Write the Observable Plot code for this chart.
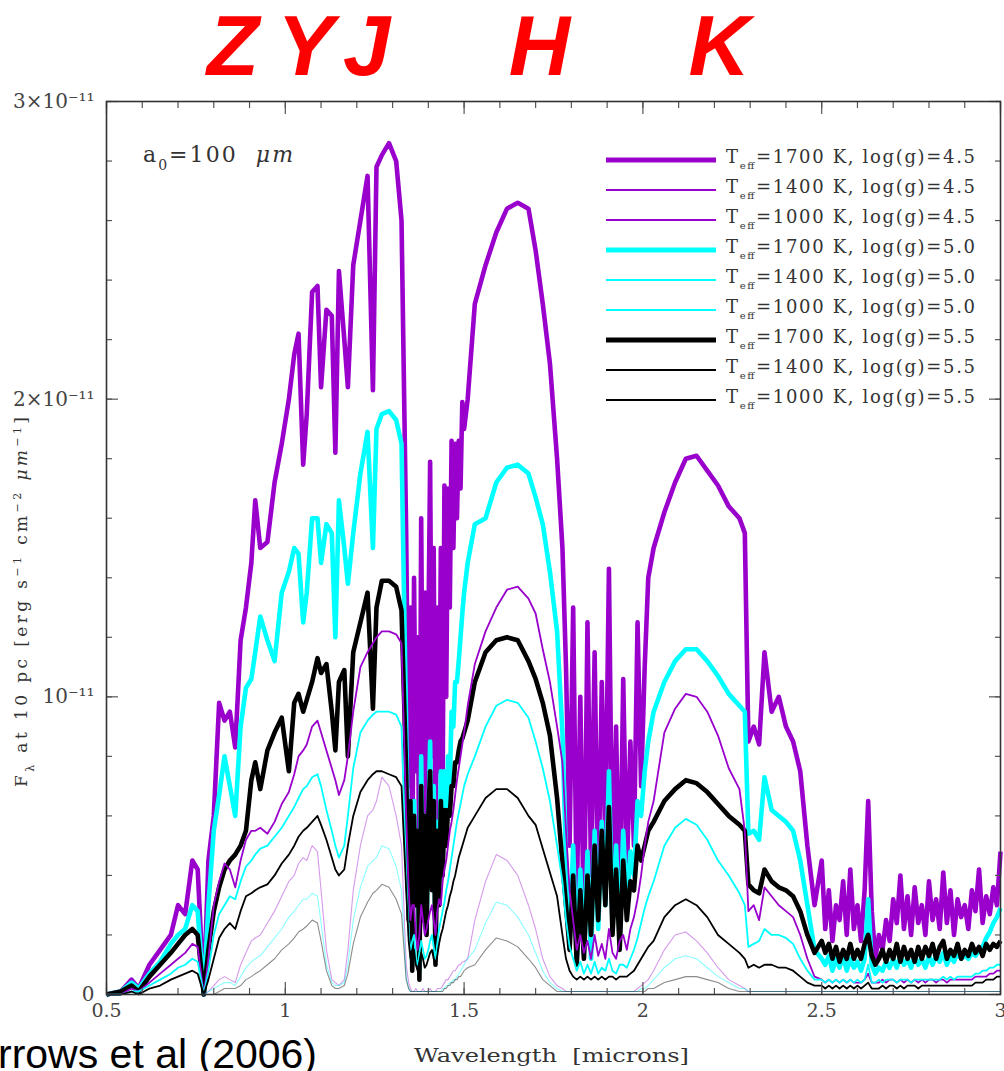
<!DOCTYPE html>
<html>
<head>
<meta charset="utf-8">
<script src="https://cdn.jsdelivr.net/npm/d3@7"></script>
<script src="https://cdn.jsdelivr.net/npm/@observablehq/plot@0.6"></script>
<style>
  html, body { margin: 0; padding: 0; background: #fff; }
  #chart { width: 1004px; height: 1071px; overflow: hidden; position: relative; }
  #chart svg { display: block; }
</style>
</head>
<body>
<div id="chart"></div>
<script>
// ---------------- data (flux in units of 1e-11 erg s^-1 cm^-2 um^-1) ----------------
const wavelength = [
  // 0.5 - 0.8
  0.50, 0.54, 0.57, 0.59, 0.62, 0.65, 0.68, 0.70, 0.72, 0.74, 0.755, 0.772, 0.785, 0.80,
  // Z Y J
  0.815, 0.83, 0.845, 0.86, 0.875, 0.89, 0.905, 0.916, 0.93, 0.95,
  0.97, 0.99, 1.01, 1.025, 1.037, 1.05, 1.06, 1.075, 1.09, 1.10,
  1.115, 1.13, 1.14, 1.15, 1.165, 1.175, 1.19, 1.21, 1.23, 1.245,
  1.255, 1.27, 1.29, 1.31, 1.325,
  // water band 1.4
  1.338, 1.345, 1.35, 1.355, 1.36, 1.365, 1.37, 1.375, 1.38, 1.385,
  1.39, 1.395, 1.40, 1.405, 1.41, 1.415, 1.42, 1.425, 1.43, 1.435,
  1.44, 1.445, 1.45, 1.455, 1.46, 1.465, 1.47, 1.475, 1.48, 1.485,
  1.49, 1.495, 1.50, 1.51,
  // H
  1.53, 1.56, 1.59, 1.62, 1.65, 1.68, 1.70, 1.72, 1.74, 1.76,
  // water band 1.9
  1.775, 1.785, 1.795, 1.805, 1.815, 1.825, 1.835, 1.845, 1.855, 1.865,
  1.875, 1.885, 1.895, 1.905, 1.915, 1.925, 1.935, 1.945, 1.955, 1.965,
  1.975, 1.985, 1.995, 2.005, 2.015,
  // K
  2.03, 2.06, 2.09, 2.12, 2.15, 2.18, 2.21, 2.24, 2.27, 2.285,
  2.295, 2.31, 2.325, 2.34, 2.36, 2.38, 2.40, 2.42, 2.44, 2.46,
  2.48, 2.50,
  // 2.5 - 3.0
  2.51, 2.52, 2.53, 2.54, 2.55, 2.56, 2.57, 2.58, 2.59, 2.60,
  2.61, 2.62, 2.63, 2.64, 2.65, 2.66, 2.67, 2.68, 2.69, 2.70,
  2.71, 2.72, 2.73, 2.74, 2.75, 2.76, 2.77, 2.78, 2.79, 2.80,
  2.81, 2.82, 2.83, 2.84, 2.85, 2.86, 2.87, 2.88, 2.89, 2.90,
  2.91, 2.92, 2.93, 2.94, 2.95, 2.96, 2.97, 2.98, 2.99, 3.00
];

const f1700_45 = [
  0, 0.01, 0.05, 0.02, 0.10, 0.15, 0.20, 0.30, 0.27, 0.45, 0.42, 0, 0.45, 0.60,
  0.98, 0.92, 0.95, 0.83, 1.19, 1.30, 1.45, 1.66, 1.50, 1.52,
  1.72, 1.85, 2.00, 2.15, 2.22, 1.78, 1.95, 2.36, 2.38, 2.04,
  2.30, 2.28, 1.82, 2.43, 2.20, 2.04, 2.45, 2.60, 2.75, 2.03,
  2.78, 2.82, 2.86, 2.80, 2.60,
  1.55, 0.70, 1.30, 0.35, 1.40, 0.75, 1.20, 0.30, 1.60, 0.70,
  1.35, 0.45, 1.20, 1.79, 0.80, 1.50, 0.35, 1.30, 0.75, 1.50,
  0.70, 1.71, 1.00, 1.70, 1.30, 1.86, 1.50, 1.85, 1.60, 1.86,
  1.70, 1.99, 1.90, 2.00,
  2.32, 2.45, 2.56, 2.64, 2.66, 2.64, 2.50, 2.32, 2.12, 1.80,
  1.50, 1.10, 0.50, 1.30, 0.30, 1.00, 0.20, 1.25, 0.40, 1.15,
  0.30, 1.05, 0.50, 1.43, 0.35, 0.90, 0.25, 1.06, 0.40, 0.85,
  0.50, 1.25, 0.70, 1.10, 1.40,
  1.50, 1.62, 1.72, 1.80, 1.81, 1.76, 1.71, 1.64, 1.60, 1.55,
  0.85, 0.90, 0.84, 1.15, 0.95, 1.00, 0.90, 0.85, 0.75, 0.50,
  0.30, 0.45,
  0.22, 0.35, 0.18, 0.30, 0.25, 0.38, 0.20, 0.42, 0.22, 0.30,
  0.18, 0.35, 0.65, 0.28, 0.12, 0.20, 0.15, 0.25, 0.18, 0.32,
  0.24, 0.40, 0.22, 0.33, 0.20, 0.36, 0.24, 0.30, 0.20, 0.38,
  0.25, 0.32, 0.22, 0.41, 0.24, 0.35, 0.20, 0.32, 0.26, 0.30,
  0.22, 0.35, 0.28, 0.42, 0.24, 0.33, 0.27, 0.36, 0.30, 0.48
];

const f1400_45 = [
  0, 0, 0.02, 0.01, 0.04, 0.07, 0.10, 0.12, 0.14, 0.17, 0.16, 0, 0.12, 0.30,
  0.38, 0.44, 0.42, 0.36, 0.45, 0.52, 0.55, 0.55, 0.56, 0.54,
  0.58, 0.64, 0.68, 0.74, 0.80, 0.82, 0.84, 0.90, 0.92, 0.88,
  0.82, 0.76, 0.72, 0.67, 0.72, 0.80, 0.95, 1.10, 1.15, 1.18,
  1.20, 1.22, 1.22, 1.21, 1.18,
  0.60, 0.35, 0.25, 0.30, 0.30, 0.20, 0.15, 0.20, 0.30, 0.25,
  0.20, 0.22, 0.25, 0.28, 0.30, 0.25, 0.20, 0.28, 0.32, 0.30,
  0.38, 0.42, 0.45, 0.50, 0.55, 0.58, 0.62, 0.67, 0.72, 0.76,
  0.80, 0.84, 0.88, 0.97,
  1.11, 1.22, 1.30, 1.36, 1.37, 1.33, 1.28, 1.16, 1.05, 0.90,
  0.78, 0.55, 0.35, 0.25, 0.15, 0.20, 0.14, 0.18, 0.12, 0.20,
  0.13, 0.17, 0.12, 0.22, 0.14, 0.12, 0.18, 0.20, 0.15, 0.22,
  0.26, 0.32, 0.40, 0.50, 0.58,
  0.65, 0.88, 0.96, 1.01, 1.00, 0.95, 0.87, 0.76, 0.69, 0.55,
  0.28, 0.30, 0.25, 0.36, 0.33, 0.30, 0.28, 0.26, 0.20, 0.12,
  0.06, 0.05,
  0.04, 0.05, 0.04, 0.05, 0.04, 0.05, 0.04, 0.05, 0.04, 0.04,
  0.04, 0.05, 0.07, 0.04, 0.04, 0.04, 0.05, 0.04, 0.05, 0.05,
  0.04, 0.05, 0.04, 0.05, 0.04, 0.05, 0.04, 0.05, 0.04, 0.05,
  0.05, 0.04, 0.05, 0.05, 0.04, 0.05, 0.05, 0.05, 0.05, 0.05,
  0.05, 0.05, 0.06, 0.06, 0.06, 0.06, 0.07, 0.07, 0.08, 0.08
];

const f1000_45 = [
  0, 0, 0, 0, 0, 0, 0, 0, 0, 0, 0, 0, 0.01, 0.03,
  0.05, 0.06, 0.05, 0.04, 0.10, 0.14, 0.18, 0.19, 0.20, 0.24,
  0.28, 0.33, 0.38, 0.40, 0.44, 0.46, 0.45, 0.50, 0.48, 0.35,
  0.15, 0.05, 0.04, 0.03, 0.05, 0.15, 0.35, 0.50, 0.60, 0.62,
  0.65, 0.73, 0.70, 0.60, 0.50,
  0.10, 0.04, 0.02, 0.01, 0.01, 0.02, 0.01, 0.01, 0.01, 0.02,
  0.01, 0.01, 0.01, 0.02, 0.01, 0.01, 0.01, 0.02, 0.02, 0.02,
  0.03, 0.04, 0.05, 0.05, 0.06, 0.07, 0.08, 0.08, 0.09, 0.10,
  0.10, 0.11, 0.11, 0.12,
  0.25, 0.38, 0.47, 0.45, 0.40, 0.30, 0.22, 0.12, 0.06, 0.03,
  0.02, 0.01, 0.01, 0.01, 0.01, 0.01, 0.01, 0.01, 0.01, 0.01,
  0.01, 0.01, 0.01, 0.01, 0.01, 0.01, 0.01, 0.01, 0.01, 0.01,
  0.01, 0.02, 0.03, 0.04, 0.05,
  0.08, 0.15, 0.20, 0.21, 0.18, 0.14, 0.09, 0.05, 0.03, 0.02,
  0.01, 0.01, 0.01, 0.01, 0.01, 0.01, 0.01, 0.01, 0.01, 0.01,
  0.01, 0.01,
  0.01, 0.01, 0.01, 0.01, 0.01, 0.01, 0.01, 0.01, 0.01, 0.01,
  0.01, 0.01, 0.01, 0.01, 0.01, 0.01, 0.01, 0.01, 0.01, 0.01,
  0.01, 0.01, 0.01, 0.01, 0.01, 0.01, 0.01, 0.01, 0.01, 0.01,
  0.01, 0.01, 0.01, 0.01, 0.01, 0.01, 0.01, 0.01, 0.01, 0.01,
  0.01, 0.01, 0.01, 0.01, 0.01, 0.01, 0.01, 0.01, 0.01, 0.01
];

const f1700_50 = [
  0, 0.01, 0.04, 0.02, 0.07, 0.11, 0.17, 0.20, 0.22, 0.30, 0.28, 0, 0.30, 0.55,
  0.67, 0.80, 0.70, 0.60, 0.90, 1.03, 1.06, 1.15, 1.27, 1.19,
  1.12, 1.35, 1.42, 1.50, 1.48, 1.25, 1.35, 1.60, 1.60, 1.45,
  1.58, 1.55, 1.20, 1.66, 1.50, 1.38, 1.55, 1.75, 1.89, 1.50,
  1.90, 1.95, 1.96, 1.93, 1.85,
  0.90, 0.30, 0.60, 0.10, 0.65, 0.35, 0.55, 0.08, 0.80, 0.28,
  0.60, 0.22, 0.55, 0.85, 0.38, 0.70, 0.15, 0.58, 0.35, 0.75,
  0.45, 0.75, 0.55, 0.80, 0.70, 0.95, 0.90, 1.05, 1.05, 1.12,
  1.20, 1.28, 1.35, 1.45,
  1.58, 1.60, 1.72, 1.77, 1.78, 1.75, 1.67, 1.58, 1.42, 1.22,
  0.88, 0.45, 0.18, 0.50, 0.12, 0.42, 0.14, 0.48, 0.12, 0.55,
  0.22, 0.58, 0.30, 0.75, 0.22, 0.50, 0.18, 0.55, 0.30, 0.48,
  0.40, 0.65, 0.60, 0.75, 0.85,
  0.95, 1.05, 1.12, 1.16, 1.16, 1.12, 1.07, 1.01, 0.97, 0.95,
  0.54, 0.55, 0.52, 0.73, 0.62, 0.60, 0.58, 0.55, 0.45, 0.30,
  0.15, 0.12,
  0.10, 0.13, 0.08, 0.12, 0.09, 0.13, 0.08, 0.12, 0.09, 0.11,
  0.08, 0.12, 0.32, 0.10, 0.07, 0.09, 0.08, 0.11, 0.09, 0.12,
  0.09, 0.13, 0.10, 0.12, 0.09, 0.13, 0.10, 0.12, 0.09, 0.13,
  0.10, 0.13, 0.11, 0.14, 0.10, 0.13, 0.11, 0.14, 0.12, 0.13,
  0.12, 0.14, 0.13, 0.15, 0.16, 0.19, 0.21, 0.24, 0.26, 0.29
];

const f1400_50 = [
  0, 0, 0.01, 0.01, 0.03, 0.05, 0.07, 0.09, 0.10, 0.12, 0.11, 0, 0.08, 0.20,
  0.27, 0.30, 0.33, 0.32, 0.38, 0.43, 0.45, 0.47, 0.49, 0.50,
  0.53, 0.56, 0.60, 0.63, 0.66, 0.69, 0.70, 0.73, 0.74, 0.70,
  0.62, 0.55, 0.50, 0.46, 0.50, 0.60, 0.76, 0.88, 0.92, 0.94,
  0.95, 0.95, 0.95, 0.94, 0.90,
  0.40, 0.20, 0.15, 0.18, 0.20, 0.12, 0.10, 0.14, 0.18, 0.15,
  0.12, 0.13, 0.15, 0.18, 0.20, 0.16, 0.12, 0.17, 0.22, 0.25,
  0.28, 0.31, 0.35, 0.38, 0.42, 0.46, 0.50, 0.54, 0.58, 0.61,
  0.64, 0.67, 0.70, 0.74,
  0.80, 0.90, 0.97, 0.99, 0.98, 0.93, 0.85, 0.76, 0.65, 0.50,
  0.38, 0.25, 0.16, 0.12, 0.08, 0.11, 0.07, 0.10, 0.07, 0.11,
  0.07, 0.09, 0.08, 0.12, 0.08, 0.07, 0.10, 0.10, 0.09, 0.12,
  0.15, 0.19, 0.24, 0.29, 0.33,
  0.38, 0.50, 0.56, 0.59, 0.57, 0.52, 0.45, 0.40, 0.34, 0.30,
  0.16, 0.17, 0.18, 0.22, 0.20, 0.20, 0.19, 0.17, 0.12, 0.08,
  0.05, 0.05,
  0.04, 0.05, 0.04, 0.05, 0.04, 0.05, 0.04, 0.05, 0.04, 0.05,
  0.04, 0.05, 0.10, 0.04, 0.04, 0.05, 0.04, 0.05, 0.05, 0.05,
  0.04, 0.05, 0.05, 0.05, 0.04, 0.05, 0.05, 0.05, 0.05, 0.05,
  0.05, 0.05, 0.05, 0.06, 0.05, 0.06, 0.05, 0.06, 0.06, 0.06,
  0.06, 0.06, 0.07, 0.07, 0.08, 0.08, 0.09, 0.09, 0.10, 0.10
];

const f1000_50 = [
  0, 0, 0, 0, 0, 0, 0, 0, 0, 0, 0, 0, 0.01, 0.02,
  0.03, 0.04, 0.04, 0.03, 0.06, 0.09, 0.11, 0.12, 0.13, 0.16,
  0.19, 0.22, 0.26, 0.28, 0.30, 0.32, 0.32, 0.34, 0.33, 0.24,
  0.10, 0.04, 0.03, 0.03, 0.04, 0.10, 0.25, 0.36, 0.43, 0.45,
  0.46, 0.50, 0.49, 0.43, 0.35,
  0.06, 0.02, 0.01, 0.01, 0.01, 0.01, 0.01, 0.01, 0.01, 0.01,
  0.01, 0.01, 0.01, 0.01, 0.01, 0.01, 0.01, 0.01, 0.01, 0.01,
  0.02, 0.02, 0.03, 0.03, 0.04, 0.04, 0.05, 0.05, 0.06, 0.07,
  0.08, 0.09, 0.10, 0.12,
  0.15, 0.24, 0.31, 0.30, 0.26, 0.20, 0.14, 0.08, 0.04, 0.02,
  0.01, 0.01, 0.01, 0.01, 0.01, 0.01, 0.01, 0.01, 0.01, 0.01,
  0.01, 0.01, 0.01, 0.01, 0.01, 0.01, 0.01, 0.01, 0.01, 0.01,
  0.01, 0.01, 0.02, 0.02, 0.03,
  0.05, 0.09, 0.12, 0.13, 0.12, 0.09, 0.06, 0.04, 0.02, 0.02,
  0.01, 0.01, 0.01, 0.01, 0.01, 0.01, 0.01, 0.01, 0.01, 0.01,
  0.01, 0.01,
  0.01, 0.01, 0.01, 0.01, 0.01, 0.01, 0.01, 0.01, 0.01, 0.01,
  0.01, 0.01, 0.01, 0.01, 0.01, 0.01, 0.01, 0.01, 0.01, 0.01,
  0.01, 0.01, 0.01, 0.01, 0.01, 0.01, 0.01, 0.01, 0.01, 0.01,
  0.01, 0.01, 0.01, 0.01, 0.01, 0.01, 0.01, 0.01, 0.01, 0.01,
  0.01, 0.01, 0.01, 0.01, 0.01, 0.01, 0.01, 0.01, 0.01, 0.01
];

const f1700_55 = [
  0, 0.01, 0.03, 0.01, 0.06, 0.10, 0.14, 0.17, 0.20, 0.22, 0.20, 0, 0.15, 0.28,
  0.36, 0.42, 0.45, 0.47, 0.50, 0.55, 0.72, 0.78, 0.69, 0.82,
  0.88, 0.93, 0.75, 0.98, 1.01, 0.95, 0.99, 1.05, 1.13, 1.08,
  1.11, 0.95, 0.82, 1.05, 1.09, 0.80, 1.15, 1.25, 1.35, 0.96,
  1.30, 1.39, 1.39, 1.37, 1.29,
  0.75, 0.25, 0.65, 0.08, 0.60, 0.30, 0.55, 0.05, 0.70, 0.25,
  0.60, 0.20, 0.60, 0.75, 0.35, 0.65, 0.10, 0.55, 0.30, 0.65,
  0.40, 0.62, 0.50, 0.62, 0.60, 0.70, 0.70, 0.78, 0.78, 0.82,
  0.85, 0.86, 0.88, 0.92,
  1.05, 1.15, 1.19, 1.20, 1.19, 1.12, 1.06, 0.98, 0.87, 0.66,
  0.44, 0.30, 0.15, 0.40, 0.10, 0.35, 0.12, 0.40, 0.20, 0.50,
  0.25, 0.55, 0.30, 0.63, 0.20, 0.42, 0.15, 0.45, 0.25, 0.38,
  0.35, 0.50, 0.45, 0.50, 0.55,
  0.58, 0.65, 0.69, 0.72, 0.71, 0.68, 0.64, 0.60, 0.57, 0.55,
  0.37, 0.35, 0.34, 0.42, 0.38, 0.36, 0.35, 0.33, 0.28, 0.20,
  0.14, 0.18,
  0.14, 0.17, 0.12, 0.16, 0.11, 0.15, 0.12, 0.17, 0.12, 0.15,
  0.12, 0.17, 0.20, 0.13, 0.10, 0.12, 0.15, 0.11, 0.15, 0.12,
  0.17, 0.11, 0.16, 0.12, 0.15, 0.11, 0.16, 0.12, 0.16, 0.13,
  0.17, 0.12, 0.16, 0.18, 0.12, 0.15, 0.13, 0.17, 0.12, 0.15,
  0.13, 0.17, 0.14, 0.16, 0.13, 0.17, 0.15, 0.17, 0.16, 0.18
];

const f1400_55 = [
  0, 0, 0.01, 0, 0.02, 0.03, 0.05, 0.06, 0.07, 0.08, 0.07, 0, 0.05, 0.12,
  0.19, 0.22, 0.24, 0.22, 0.28, 0.33, 0.34, 0.35, 0.36, 0.37,
  0.40, 0.44, 0.47, 0.50, 0.53, 0.55, 0.56, 0.58, 0.60, 0.57,
  0.52, 0.46, 0.42, 0.40, 0.42, 0.50, 0.60, 0.68, 0.72, 0.74,
  0.75, 0.75, 0.74, 0.73, 0.70,
  0.35, 0.18, 0.12, 0.14, 0.15, 0.10, 0.08, 0.11, 0.14, 0.12,
  0.09, 0.10, 0.12, 0.14, 0.15, 0.12, 0.10, 0.13, 0.17, 0.20,
  0.22, 0.25, 0.28, 0.30, 0.33, 0.35, 0.38, 0.40, 0.43, 0.46,
  0.48, 0.50, 0.52, 0.56,
  0.60, 0.66, 0.69, 0.69, 0.66, 0.60, 0.57, 0.49, 0.41, 0.33,
  0.20, 0.12, 0.08, 0.06, 0.05, 0.06, 0.05, 0.06, 0.05, 0.06,
  0.05, 0.06, 0.05, 0.06, 0.06, 0.05, 0.06, 0.06, 0.06, 0.07,
  0.08, 0.10, 0.12, 0.14, 0.16,
  0.18, 0.26, 0.30, 0.32, 0.30, 0.26, 0.20, 0.17, 0.14, 0.12,
  0.09, 0.10, 0.09, 0.10, 0.10, 0.09, 0.09, 0.08, 0.06, 0.04,
  0.03, 0.03,
  0.02, 0.03, 0.02, 0.03, 0.02, 0.03, 0.02, 0.03, 0.02, 0.03,
  0.02, 0.03, 0.04, 0.02, 0.02, 0.02, 0.03, 0.02, 0.03, 0.03,
  0.02, 0.03, 0.02, 0.03, 0.03, 0.03, 0.02, 0.03, 0.03, 0.03,
  0.03, 0.03, 0.03, 0.03, 0.03, 0.03, 0.03, 0.03, 0.03, 0.03,
  0.03, 0.03, 0.04, 0.04, 0.04, 0.05, 0.05, 0.05, 0.06, 0.06
];

const f1000_55 = [
  0, 0, 0, 0, 0, 0, 0, 0, 0, 0, 0, 0, 0, 0,
  0.01, 0.02, 0.02, 0.02, 0.03, 0.05, 0.06, 0.07, 0.08, 0.10,
  0.12, 0.15, 0.17, 0.19, 0.21, 0.22, 0.23, 0.25, 0.24, 0.18,
  0.08, 0.03, 0.02, 0.02, 0.03, 0.07, 0.17, 0.26, 0.31, 0.34,
  0.35, 0.37, 0.36, 0.32, 0.27,
  0.05, 0.02, 0.01, 0.01, 0.01, 0.01, 0.01, 0.01, 0.01, 0.01,
  0.01, 0.01, 0.01, 0.01, 0.01, 0.01, 0.01, 0.01, 0.01, 0.01,
  0.01, 0.02, 0.02, 0.03, 0.03, 0.04, 0.04, 0.05, 0.05, 0.06,
  0.06, 0.07, 0.08, 0.09,
  0.10, 0.15, 0.19, 0.18, 0.16, 0.12, 0.09, 0.05, 0.03, 0.01,
  0.01, 0.01, 0.01, 0.01, 0.01, 0.01, 0.01, 0.01, 0.01, 0.01,
  0.01, 0.01, 0.01, 0.01, 0.01, 0.01, 0.01, 0.01, 0.01, 0.01,
  0.01, 0.01, 0.01, 0.01, 0.02,
  0.02, 0.04, 0.05, 0.06, 0.06, 0.05, 0.04, 0.02, 0.01, 0.01,
  0.01, 0.01, 0.01, 0.01, 0.01, 0.01, 0.01, 0.01, 0.01, 0.01,
  0.01, 0.01,
  0.01, 0.01, 0.01, 0.01, 0.01, 0.01, 0.01, 0.01, 0.01, 0.01,
  0.01, 0.01, 0.01, 0.01, 0.01, 0.01, 0.01, 0.01, 0.01, 0.01,
  0.01, 0.01, 0.01, 0.01, 0.01, 0.01, 0.01, 0.01, 0.01, 0.01,
  0.01, 0.01, 0.01, 0.01, 0.01, 0.01, 0.01, 0.01, 0.01, 0.01,
  0.01, 0.01, 0.01, 0.01, 0.01, 0.01, 0.01, 0.01, 0.01, 0.01
];

// legend order
const teffs = ["1700", "1400", "1000", "1700", "1400", "1000", "1700", "1400", "1000"];
const loggs = ["4.5", "4.5", "4.5", "5.0", "5.0", "5.0", "5.5", "5.5", "5.5"];
const seriesValues = [f1700_45, f1400_45, f1000_45, f1700_50, f1400_50, f1000_50, f1700_55, f1400_55, f1000_55];

const xMajor = [0.5, 1, 1.5, 2, 2.5, 3];
const xTickLabels = ["0.5", "1", "1.5", "2", "2.5", "3"];
const yMajor = [0, 1, 2, 3];
const yTickLabels = ["0", "10\u207B\u00B9\u00B9", "2\u00D710\u207B\u00B9\u00B9", "3\u00D710\u207B\u00B9\u00B9"];
const bandLetters = ["Z", "Y", "J", "H", "K"];
const bandCenters = [0.855, 1.058, 1.229, 1.712, 2.215];

// ---------------- styles ----------------
const PURPLE = "#9900cc", CYAN = "#00ffff", BLACK = "#000000";
const seriesStyle = [
  {color: PURPLE, plotW: 4.6, legW: 5, op: 1},
  {color: PURPLE, plotW: 1.8, legW: 2, op: 1},
  {color: PURPLE, plotW: 1.1, legW: 2, op: 0.4},
  {color: CYAN,   plotW: 4.6, legW: 5, op: 1},
  {color: CYAN,   plotW: 1.8, legW: 2, op: 1},
  {color: CYAN,   plotW: 1.1, legW: 2, op: 0.45},
  {color: BLACK,  plotW: 4.6, legW: 5, op: 1},
  {color: BLACK,  plotW: 1.8, legW: 2, op: 1},
  {color: BLACK,  plotW: 1.1, legW: 2, op: 0.45}
];
const drawOrder = [0, 3, 6, 1, 4, 7, 2, 5, 8];

const rows = [];
seriesValues.forEach((vals, k) => vals.forEach((v, i) => rows.push({k, w: wavelength[i], f: v})));

const marks = [];
drawOrder.forEach(k => {
  const s = seriesStyle[k];
  marks.push(Plot.line(rows.filter(r => r.k === k), {
    x: "w", y: "f", stroke: s.color, strokeWidth: s.plotW, strokeOpacity: s.op,
    strokeLinejoin: "round", strokeLinecap: "butt"
  }));
});

const xMinor = d3.range(5, 31).map(i => i / 10);
const yMinor = d3.range(0, 16).map(i => i / 5);
const tk = {stroke: "#555", strokeWidth: 1.2, tickFormat: () => "", label: null};
marks.push(
  Plot.axisX(xMinor, {...tk, anchor: "bottom", tickSize: 6, dy: -6}),
  Plot.axisX(xMajor, {...tk, anchor: "bottom", tickSize: 12, dy: -12}),
  Plot.axisX(xMinor, {...tk, anchor: "top", tickSize: 6, dy: 6}),
  Plot.axisX(xMajor, {...tk, anchor: "top", tickSize: 12, dy: 12}),
  Plot.axisY(yMinor, {...tk, anchor: "left", tickSize: 6, dx: 6}),
  Plot.axisY(yMajor, {...tk, anchor: "left", tickSize: 12, dx: 12}),
  Plot.axisY(yMinor, {...tk, anchor: "right", tickSize: 6, dx: -6}),
  Plot.axisY(yMajor, {...tk, anchor: "right", tickSize: 12, dx: -12}),
  Plot.axisX(xMajor, {anchor: "bottom", tickSize: 0, tickPadding: 9, label: null,
    tickFormat: d => xTickLabels[xMajor.indexOf(d)], fontSize: 19, fill: "#444"}),
  Plot.axisY(yMajor, {anchor: "left", tickSize: 0, tickPadding: 12, label: null,
    tickFormat: d => yTickLabels[yMajor.indexOf(d)], fontSize: 20, fill: "#444"}),
  Plot.frame({stroke: "#333", strokeWidth: 1.6})
);

const chart = Plot.plot({
  width: 1004, height: 1071,
  marginLeft: 106, marginRight: 4, marginTop: 101, marginBottom: 77,
  x: {domain: [0.5, 3]},
  y: {domain: [0, 3]},
  style: {fontFamily: "'DejaVu Serif', serif", background: "#fff", color: "#444"},
  marks
});
document.getElementById("chart").append(chart);

// ---------------- annotations ----------------
const svg = d3.select(chart);
const xs = chart.scale("x");
const serif = "'DejaVu Serif', serif";

// band letters
bandLetters.forEach((b, i) => {
  svg.append("text").attr("x", xs.apply(bandCenters[i])).attr("y", 75)
    .attr("text-anchor", "middle")
    .style("font-family", "'Liberation Sans', Arial, sans-serif").style("font-weight", "bold")
    .style("font-style", "italic").style("font-size", "85px").style("fill", "#ff0000")
    .text(b);
});

// legend
teffs.forEach((t, i) => {
  const y = 160 + i * 30;
  const s = seriesStyle[i];
  svg.append("line").attr("x1", 606).attr("x2", 716).attr("y1", y).attr("y2", y)
    .attr("stroke", s.color).attr("stroke-width", s.legW);
  const txt = svg.append("text").attr("x", 726).attr("y", y + 3)
    .attr("text-anchor", "start")
    .attr("textLength", 249).attr("lengthAdjust", "spacing")
    .style("font-family", serif).style("font-size", "18px").style("fill", "#333");
  txt.append("tspan").text("T");
  txt.append("tspan").attr("baseline-shift", "sub").style("font-size", "10px").text("eff");
  txt.append("tspan").text(`=${t} K, log(g)=${loggs[i]}`);
});

// a0 label
{
  const t = svg.append("text").attr("x", 143).attr("y", 162)
    .attr("text-anchor", "start")
    .attr("textLength", 150).attr("lengthAdjust", "spacing")
    .style("font-family", serif).style("font-size", "22px").style("fill", "#333");
  t.append("tspan").text("a");
  t.append("tspan").attr("baseline-shift", "sub").style("font-size", "14px").text("0");
  t.append("tspan").text("=100  ");
  t.append("tspan").style("font-style", "italic").text("\u03BCm");
}

// y axis label
{
  const t = svg.append("text").attr("transform", "translate(27,602) rotate(-90)")
    .attr("text-anchor", "middle")
    .attr("textLength", 370).attr("lengthAdjust", "spacing")
    .style("font-family", serif).style("font-size", "17px").style("fill", "#333");
  t.append("tspan").text("F");
  t.append("tspan").attr("baseline-shift", "sub").style("font-size", "11px").text("\u03BB");
  t.append("tspan").text(" at 10 pc [erg s");
  t.append("tspan").attr("baseline-shift", "super").style("font-size", "11px").text("\u22121");
  t.append("tspan").text(" cm");
  t.append("tspan").attr("baseline-shift", "super").style("font-size", "11px").text("\u22122");
  t.append("tspan").text(" ");
  t.append("tspan").style("font-style", "italic").text("\u03BCm");
  t.append("tspan").attr("baseline-shift", "super").style("font-size", "11px").text("\u22121");
  t.append("tspan").text("]");
}

// x axis label
svg.append("text").attr("x", 414).attr("y", 1062)
  .attr("text-anchor", "start")
  .attr("textLength", 275).attr("lengthAdjust", "spacingAndGlyphs")
  .style("font-family", serif).style("font-size", "19px").style("fill", "#333")
  .text("Wavelength  [microns]");

// citation
svg.append("text").attr("x", 317).attr("y", 1068).attr("text-anchor", "end")
  .style("font-family", "'Liberation Sans', Arial, sans-serif").style("font-size", "41px").style("fill", "#000")
  .text("Burrows et al (2006)");
</script>
</body>
</html>
